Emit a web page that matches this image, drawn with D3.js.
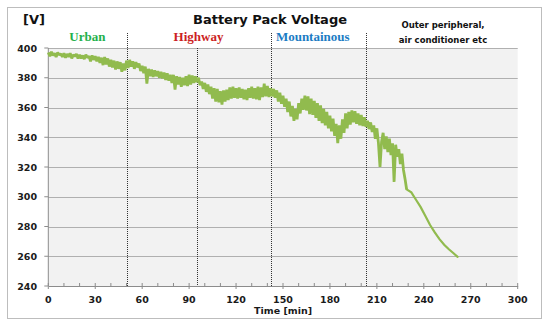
<!DOCTYPE html>
<html>
<head>
<meta charset="utf-8">
<script src="https://cdn.jsdelivr.net/npm/d3@7"></script>
<style>
    body { margin: 0; background: #ffffff; }
</style>
</head>
<body>
<svg id="chart"></svg>
<script>
// pack voltage, one sample per minute (t = 0 .. 229)
const traceStart = 0;
const traceVolt = [
    397, 394.5, 397.5, 395, 396.5, 394, 397, 395.5, 396, 394,
    396.5, 393.5, 396, 394, 396.5, 393, 395.5, 394.5, 396, 393,
    395.5, 393, 395, 392.5, 395.5, 393.5, 394.5, 391, 395, 392,
    394.5, 391, 394, 390, 393.5, 388.5, 394, 389, 393, 387.5,
    392, 387, 391.5, 385.5, 391, 386, 390.5, 384, 389.5, 385,
    391.5, 386.5, 392, 387.5, 391, 386, 390.5, 387, 389.5, 384.5,
    388, 383, 387.5, 376, 386, 381, 385.5, 380.5, 385, 381,
    384.5, 380, 384, 379.5, 383.5, 378.5, 383, 378, 382, 376.5,
    382, 372, 381, 375.5, 380.5, 374, 380, 375, 381, 374.5,
    382, 375.5, 381.5, 376.5, 381, 377, 380, 375, 377.5, 372.5,
    376.5, 370.5, 375.5, 369, 374, 366, 373, 364, 372.5, 363.5,
    371, 362, 371.5, 364, 372, 365, 373.5, 366, 374, 366.5,
    373, 366, 373.5, 366.5, 372.5, 365.5, 372, 365, 373, 366.5,
    374, 366, 373, 365.5, 374, 365, 373.5, 367, 376, 367.5,
    374.5, 367, 373, 367.5, 372.5, 366.5, 371.5, 364, 370, 362.5,
    368, 360.5, 366, 357, 364, 354, 361, 351, 359, 352,
    363, 356, 366, 358.5, 368, 358, 367.5, 355.5, 366, 355,
    364.5, 353, 363, 351, 361.5, 349.5, 359, 348, 357, 346,
    354.5, 344, 352.5, 341, 349, 336, 348, 339, 352, 343,
    356, 346, 357, 348.5, 358, 350, 357.5, 349, 356, 348,
    355, 347.5, 353.5, 347, 351, 345.5, 350, 343.5, 348, 339,
    346, 336, 320, 337, 343, 332, 340.5, 330, 339, 328,
    336, 310, 335, 327, 332, 322, 329, 318, 312, 305
];

// final smooth discharge (outer peripheral, air conditioner)
const tailTime = [229, 232, 235, 238, 241, 244, 247, 250, 253, 256, 259, 261.6];
const tailVolt = [305, 303, 298, 293, 287, 281, 276, 271.5, 267.7, 264.7, 262, 259.6];

// driving segments and the dotted dividers
const phaseNames = ["Urban", "Highway", "Mountainous"];
const phaseColors = ["#24b04c", "#cc1f24", "#1c7cc4"];
const phaseLabelT = [25, 96, 169];
const dividerT = [50, 95, 142.5, 203];
const dividerTall = [true, false, true, true];

const xTicks = [0, 30, 60, 90, 120, 150, 180, 210, 240, 270, 300];
const yTicks = [240, 260, 280, 300, 320, 340, 360, 380, 400];

const width = 550, height = 326;
const plot = { left: 48.3, right: 517.7, top: 48, bottom: 286 };
const sansBold = "'DejaVu Sans', Verdana, sans-serif";

const svg = d3.select("svg#chart")
    .attr("width", width)
    .attr("height", height)
    .style("font-family", sansBold)
    .style("font-weight", "bold");

const x = d3.scaleLinear().domain([0, 300]).range([plot.left, plot.right]);
const y = d3.scaleLinear().domain([240, 400]).range([plot.bottom, plot.top]);

// outer frame
svg.append("rect")
    .attr("x", 7.5).attr("y", 7.5)
    .attr("width", 534).attr("height", 311)
    .attr("fill", "none")
    .attr("stroke", "#bdbdbd");

// plot background
svg.append("rect")
    .attr("x", plot.left).attr("y", plot.top)
    .attr("width", plot.right - plot.left).attr("height", plot.bottom - plot.top)
    .attr("fill", "#f2f2f2");

// ===== GRID =====
svg.append("g")
    .selectAll("line")
    .data(yTicks.filter(d => d > 240))
    .join("line")
    .attr("x1", plot.left).attr("x2", plot.right)
    .attr("y1", d => Math.round(y(d)) + 0.5).attr("y2", d => Math.round(y(d)) + 0.5)
    .attr("stroke", "#b0b0b0")
    .attr("stroke-width", 1.2);

// ===== AXES =====
const xAxis = svg.append("g")
    .attr("transform", "translate(0," + plot.bottom + ")")
    .call(d3.axisBottom(x).tickValues(xTicks).tickSize(0).tickFormat(""));
xAxis.select(".domain").attr("stroke", "#8c8c8c");
xAxis.selectAll(".tick line").remove();

// minor ticks (inside) and major ticks (across the axis)
svg.append("g")
    .selectAll("line")
    .data(d3.range(0, 301, 10))
    .join("line")
    .attr("x1", d => x(d)).attr("x2", d => x(d))
    .attr("y1", plot.bottom - 3)
    .attr("y2", d => xTicks.includes(d) ? plot.bottom + 3 : plot.bottom)
    .attr("stroke", "#8c8c8c");

svg.append("g")
    .selectAll("text")
    .data(xTicks)
    .join("text")
    .attr("x", d => x(d))
    .attr("y", 303)
    .attr("text-anchor", "middle")
    .attr("font-size", 9.5)
    .attr("fill", "#1a1a1a")
    .text(d => d);

svg.append("line")
    .attr("x1", plot.left).attr("x2", plot.left)
    .attr("y1", plot.top).attr("y2", plot.bottom)
    .attr("stroke", "#8c8c8c");

svg.append("g")
    .selectAll("line")
    .data(yTicks)
    .join("line")
    .attr("x1", plot.left - 4).attr("x2", plot.left)
    .attr("y1", d => y(d)).attr("y2", d => y(d))
    .attr("stroke", "#8c8c8c");

svg.append("g")
    .selectAll("text")
    .data(yTicks)
    .join("text")
    .attr("x", 37)
    .attr("y", d => y(d) + 3.5)
    .attr("text-anchor", "end")
    .attr("font-size", 9.5)
    .attr("fill", "#1a1a1a")
    .text(d => d);

svg.append("text")
    .attr("x", x(150))
    .attr("y", 314)
    .attr("text-anchor", "middle")
    .attr("font-size", 9.5)
    .attr("fill", "#1a1a1a")
    .text("Time [min]");

// ===== TITLES =====
svg.append("text")
    .attr("x", 270).attr("y", 24)
    .attr("text-anchor", "middle")
    .attr("font-size", 13)
    .attr("fill", "#111")
    .text("Battery Pack Voltage");

svg.append("text")
    .attr("x", 23).attr("y", 24)
    .attr("font-size", 13)
    .attr("fill", "#111")
    .text("[V]");

// ===== PHASE DIVIDERS =====
svg.append("g")
    .selectAll("line")
    .data(dividerT)
    .join("line")
    .attr("x1", d => Math.round(x(d)) + 0.5).attr("x2", d => Math.round(x(d)) + 0.5)
    .attr("y1", (d, i) => dividerTall[i] ? 33 : plot.top)
    .attr("y2", plot.bottom)
    .attr("stroke", "#333")
    .attr("stroke-dasharray", "1,1");

svg.append("g")
    .selectAll("text")
    .data(phaseNames)
    .join("text")
    .attr("x", (d, i) => x(phaseLabelT[i]))
    .attr("y", 41)
    .attr("text-anchor", "middle")
    .style("font-family", "'Liberation Serif', 'Times New Roman', serif")
    .attr("font-size", 13)
    .attr("fill", (d, i) => phaseColors[i])
    .text(d => d);

const outer = svg.append("text")
    .attr("text-anchor", "middle")
    .attr("font-size", 8.5)
    .attr("fill", "#111");
outer.append("tspan").attr("x", 443).attr("y", 28).text("Outer peripheral,");
outer.append("tspan").attr("x", 443).attr("y", 43).text("air conditioner etc");

// ===== VOLTAGE TRACE =====
const trace = traceVolt.map((v, i) => ({ t: traceStart + i, v: v }));
const tail = tailTime.map((t, i) => ({ t: t, v: tailVolt[i] }));
const green = "#91bb4e";
const gen_line = d3.line().x(d => x(d.t)).y(d => y(d.v));

svg.append("path")
    .datum(trace)
    .attr("d", gen_line)
    .attr("fill", "none")
    .attr("stroke", green)
    .attr("stroke-width", 2.8)
    .attr("stroke-linejoin", "bevel");

svg.append("path")
    .datum(tail)
    .attr("d", gen_line)
    .attr("fill", "none")
    .attr("stroke", green)
    .attr("stroke-width", 2.2)
    .attr("stroke-linecap", "round");
</script>
</body>
</html>
